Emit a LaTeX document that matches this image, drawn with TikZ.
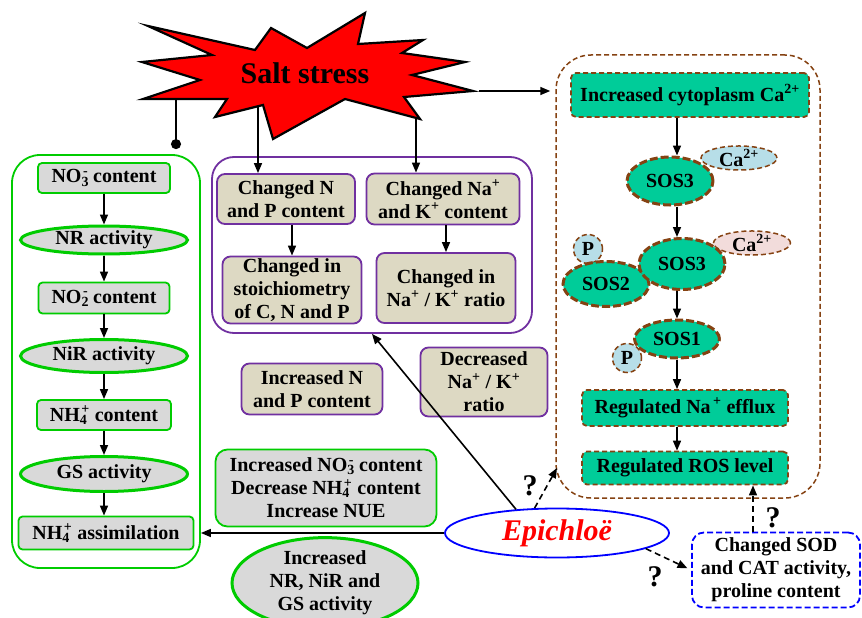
\documentclass[tikz,border=0pt]{standalone}
\usepackage{fontspec}
\setmainfont{Liberation Serif}
\usetikzlibrary{shapes.geometric,arrows.meta}
\definecolor{lgreen}{RGB}{0,204,0}
\definecolor{lgray}{RGB}{217,217,217}
\definecolor{ppurple}{RGB}{112,48,160}
\definecolor{ptan}{RGB}{221,217,195}
\definecolor{steal}{RGB}{0,204,153}
\definecolor{sbrown}{RGB}{133,66,18}
\definecolor{cblue}{RGB}{183,222,232}
\definecolor{cpink}{RGB}{242,220,219}
\newcommand{\nthree}{NO\textsubscript{3}\kern-0.3em\textsuperscript{-}}
\newcommand{\ntwo}{NO\textsubscript{2}\kern-0.3em\textsuperscript{-}}
\newcommand{\nfour}{NH\textsubscript{4}\kern-0.3em\textsuperscript{+}}

\begin{document}
\begin{tikzpicture}[x=1pt,y=-1pt,every node/.style={font=\fontsize{20}{23}\selectfont\bfseries,align=center,inner sep=0pt}]
\useasboundingbox (0,0) rectangle (862,618);
\tikzstyle{arr}=[line width=1.6pt,-{Triangle[length=10pt,width=8pt]}]
\tikzstyle{darr}=[arr,dash pattern=on 6pt off 4pt]
\tikzstyle{qmark}=[font=\fontsize{30}{32}\selectfont\bfseries]

\node[draw=lgreen,line width=1.8pt,rounded corners=28pt,minimum width=188pt,minimum height=413pt] (grn) at (106,361.5) {};
\node[draw=ppurple,line width=1.8pt,rounded corners=22pt,minimum width=320pt,minimum height=176pt] (pur) at (372,245) {};
\node[draw=sbrown,line width=1.5pt,dash pattern=on 5pt off 3pt,rounded corners=35pt,minimum width=264pt,minimum height=443pt] (brn) at (688,276.5) {};

\draw[fill=red,line width=2.2pt,line join=miter] (148,26) -- (255,50) -- (271,28) -- (307,48) -- (365,13) -- (358,44) -- (423,40) -- (402,53) -- (465,62) -- (412,75) -- (473,91) -- (404,97) -- (420,119) -- (345,99) -- (273,139) -- (263,105) -- (215,117) -- (227,99) -- (143,99) -- (200,80) -- (142,62) -- (212,55) -- cycle;
\node[font=\fontsize{30}{32}\selectfont\bfseries] (salt) at (305,73) {Salt stress};
\coordinate (sL) at (176,100);
\coordinate (sM) at (258,107);
\coordinate (sR) at (416,118);
\coordinate (sE) at (479,91);

\tikzstyle{gbox}=[rectangle,rounded corners=4pt,draw=lgreen,line width=1.8pt,fill=lgray]
\tikzstyle{gell}=[ellipse,draw=lgreen,line width=3pt,fill=lgray]
\node[gbox,minimum width=132pt,minimum height=30pt] (no3) at (104,178) {\nthree\ content};
\node[gell,minimum width=167pt,minimum height=28pt] (nr) at (104,240) {NR activity};
\node[gbox,minimum width=131pt,minimum height=31pt] (no2) at (104,298) {\ntwo\ content};
\node[gell,minimum width=167pt,minimum height=33pt] (nir) at (104,356) {NiR activity};
\node[gbox,minimum width=134pt,minimum height=30pt] (nh4) at (104,415) {\nfour\ content};
\node[gell,minimum width=167pt,minimum height=35pt] (gs) at (104,474) {GS activity};
\node[gbox,minimum width=175pt,minimum height=33pt] (nh4a) at (106,533) {\nfour\ assimilation};
\draw[arr] (no3) -- (nr);
\draw[arr] (nr) -- (no2);
\draw[arr] (no2) -- (nir);
\draw[arr] (nir) -- (nh4);
\draw[arr] (nh4) -- (gs);
\draw[arr] (gs) -- (gs |- nh4a.north);

\tikzstyle{pbox}=[rectangle,rounded corners=8pt,draw=ppurple,line width=1.8pt,fill=ptan]
\node[pbox,minimum width=138pt,minimum height=50pt] (cnp) at (286,199) {Changed N\\and P content};
\node[pbox,minimum width=153pt,minimum height=51pt] (cnak) at (443,199) {Changed Na\textsuperscript{+}\\and K\textsuperscript{+} content};
\node[pbox,minimum width=139pt,minimum height=67pt] (cst) at (292,290) {Changed in\\stoichiometry\\of C, N and P};
\node[pbox,minimum width=139pt,minimum height=70pt] (cra) at (446,288) {Changed in\\Na\textsuperscript{+} / K\textsuperscript{+} ratio};
\draw[arr] (cst.north |- cnp.south) -- (cst.north);
\draw[arr] (cra.north |- cnak.south) -- (cra.north);

\draw[arr] (sM) -- (sM |- cnp.north);
\draw[arr] (sR) -- (sR |- cnak.north);
\draw[line width=1.6pt,-{Circle[length=10pt]},shorten >=5pt] (sL) -- (sL |- grn.north);
\draw[arr,shorten >=5pt] (sE) -- (sE -| brn.west);

\tikzstyle{tbox}=[rectangle,rounded corners=5pt,draw=sbrown,line width=1.8pt,dash pattern=on 5pt off 3pt,fill=steal]
\tikzstyle{tell}=[ellipse,draw=sbrown,line width=3pt,dash pattern=on 8pt off 3pt,fill=steal]
\tikzstyle{sell}=[ellipse,draw=sbrown,line width=1.5pt,dash pattern=on 5pt off 3pt]
\node[tbox,minimum width=238pt,minimum height=44pt] (ica) at (690,95) {Increased cytoplasm Ca\textsuperscript{2+}};
\node[sell,fill=cblue,minimum width=76pt,minimum height=22pt] (ca1) at (739,158) {Ca\textsuperscript{2+}};
\node[tell,minimum width=86pt,minimum height=48pt] (sos3a) at (670,181) {SOS3};
\node[sell,fill=cpink,minimum width=77pt,minimum height=22pt] (ca2) at (752,243) {Ca\textsuperscript{2+}};
\node[sell,circle,fill=cblue,minimum size=29pt] (pa) at (588,249) {P};
\node[tell,minimum width=86pt,minimum height=45pt] (sos2) at (606,284) {SOS2};
\node[tell,minimum width=86pt,minimum height=51pt] (sos3b) at (682,264) {SOS3};
\node[sell,circle,fill=cblue,minimum size=29pt] (pb) at (627,358) {P};
\node[tell,minimum width=85pt,minimum height=38pt] (sos1) at (677,339) {SOS1};
\node[tbox,minimum width=206pt,minimum height=36pt] (naef) at (685,408) {Regulated Na\textsuperscript{\,+} efflux};
\node[tbox,minimum width=206pt,minimum height=33pt] (ros) at (685,468) {Regulated ROS level};
\coordinate (col) at (677,0);
\draw[arr] (ica.south -| col) -- (sos3a.north -| col);
\draw[arr] (sos3a.south -| col) -- (sos3b.north -| col);
\draw[arr] (sos3b.south -| col) -- (sos1.north -| col);
\draw[arr] (sos1.south -| col) -- (naef.north -| col);
\draw[arr] (naef.south -| col) -- (ros.north -| col);

\node[pbox,minimum width=141pt,minimum height=51pt] (inp) at (312,389) {Increased N\\and P content};
\node[pbox,minimum width=127pt,minimum height=69pt] (dnk) at (484,382) {Decreased\\Na\textsuperscript{+} / K\textsuperscript{+}\\ratio};
\node[gbox,rounded corners=12pt,minimum width=221pt,minimum height=77pt] (inc) at (326,488) {Increased \nthree\ content\\Decrease \nfour\ content\\Increase NUE};
\node[gell,minimum width=186pt,minimum height=88pt] (inr) at (325,583) {Increased\\NR, NiR and\\GS activity};

\node[ellipse,draw=blue,line width=1.8pt,fill=white,minimum width=224pt,minimum height=49pt,text=red,font=\fontsize{30}{32}\selectfont\bfseries\itshape] (epi) at (557,533) {Epichloë};
\node[rectangle,rounded corners=12pt,draw=blue,line width=1.8pt,dash pattern=on 6pt off 3pt,minimum width=168pt,minimum height=75pt] (sod) at (776,570) {Changed SOD\\and CAT activity,\\proline content};

\coordinate (bq) at (557,468);
\coordinate (qx) at (753,500);
\draw[arr] (epi.west) -- (epi.west -| grn.east);
\draw[arr] (epi.150) -- (pur.south);
\draw[darr] (epi.132) -- (bq);
\draw[darr,shorten >=4pt] (epi.-10) -- (sod.west);
\draw[darr] (sod.north -| qx) -- (ros.south -| qx);
\node[qmark] (q1) at (530,486) {?};
\node[qmark] (q2) at (655,577) {?};
\node[qmark] (q3) at (773,518) {?};
\end{tikzpicture}
\end{document}
